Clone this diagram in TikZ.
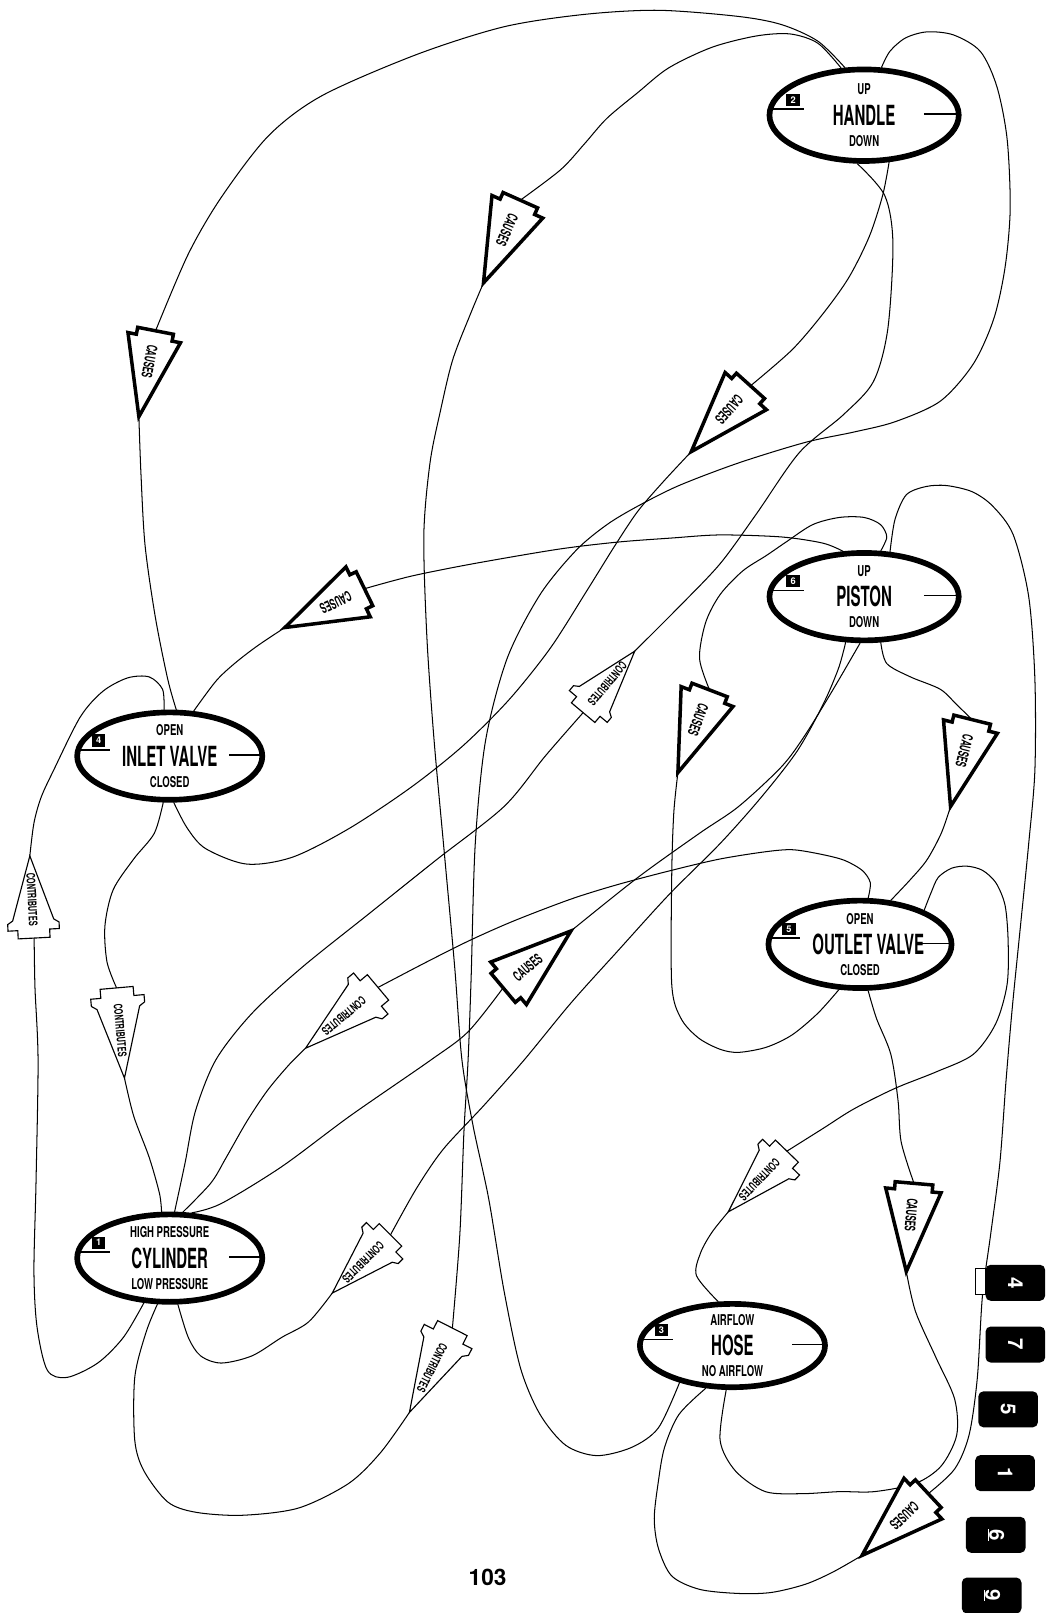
\documentclass[tikz,border=0pt]{standalone}
\usepackage{fontspec}
\setmainfont{TeX Gyre Heros}
\usetikzlibrary{shapes.geometric,calc}
\pgfdeclarelayer{bg}
\pgfsetlayers{bg,main}
\newcommand\bigfmt[1]{\scalebox{0.54}[1]{\fontsize{27}{27}\selectfont\bfseries #1}}
\newcommand\smfmt[1]{\scalebox{0.64}[1]{\fontsize{14.5}{14.5}\selectfont\bfseries #1}}
\newcommand\czfmt[1]{\scalebox{0.56}[1]{\fontsize{14}{14}\selectfont\bfseries #1}}
\newcommand\ctfmt[1]{\scalebox{0.62}[1]{\fontsize{11.5}{11.5}\selectfont\bfseries #1}}
\tikzset{
 statenode/.style={ellipse, draw, line width=5.5pt, fill=white, inner sep=0pt},
 tick/.style={line width=1.6pt},
 numbox/.style={fill=black, text=white, minimum width=13pt, minimum height=12pt, inner sep=0pt, font=\bfseries\fontsize{9}{9}\selectfont},
 lbl/.style={inner sep=0pt},
 conn/.style={line width=1pt, line cap=round, line join=round},
 cz/.style={draw, fill=white, line width=3.4pt, line join=miter},
 ct/.style={draw, fill=white, line width=1.1pt, line join=miter},
 tabbox/.style={fill=black, rounded corners=5pt, minimum width=58pt, minimum height=35pt, inner sep=0pt},
 tabnum/.style={text=white, inner sep=0pt, font=\bfseries\fontsize{20}{20}\selectfont},
}
\def\ms{0}
\newcommand\stnode[9]{%
 \node[statenode, minimum width=#3, minimum height=#4] (#1) at (#2) {};
 \draw[tick] ($(#1.center)+(-#9+3,-6)$) -- ($(#1.center)+(-58,-6)$);
 \draw[tick] ($(#1.center)+(58,-1)$) -- ($(#1.center)+(#9-4,-1)$);
 \node[numbox] (#1-n) at ($(#1.center)+(-69,-15)$) {#5};
 \node[lbl] (#1-t) at ($(#1.center)+(0,-25)$) {\smfmt{#6}};
 \node[lbl] (#1-m) at ($(#1.center)+(\ms,0)$) {\bigfmt{#7}};
 \node[lbl] (#1-b) at ($(#1.center)+(0,25)$) {\smfmt{#8}};
}
% causes arrow: single notch at the back
\newcommand\czshape[2]{(0,0) -- ({-0.92*#1},{#2}) -- ({-0.92*#1},{0.68*#2}) -- ({-#1},{0.68*#2}) -- ({-#1},{-0.68*#2}) -- ({-0.92*#1},{-0.68*#2}) -- ({-0.92*#1},{-#2}) -- cycle}
% contributes arrow: barb plus notch
\newcommand\ctshape[2]{(0,0) -- ({-0.78*#1},{0.8*#2}) -- ({-0.82*#1},{#2}) -- ({-0.9*#1},{#2}) -- ({-0.9*#1},{0.62*#2}) -- ({-#1},{0.62*#2}) -- ({-#1},{-0.62*#2}) -- ({-0.9*#1},{-0.62*#2}) -- ({-0.9*#1},{-#2}) -- ({-0.82*#1},{-#2}) -- ({-0.78*#1},{-0.8*#2}) -- cycle}
\newcommand\arrowpiece[9]{%
 \begin{scope}[shift={(#2)}, rotate=#3]
  \draw[#6] \csname #6shape\endcsname{#4}{#5};
  \coordinate (#1t) at (0,0);
  \coordinate (#1b) at ({-#4},0);
  \node[lbl, rotate=#8] (#1l) at ({-#9*#4},0) {\csname #6fmt\endcsname{#7}};
 \end{scope}}
\begin{document}
\begin{tikzpicture}[x=1pt,y=-1pt]
\useasboundingbox (0,0) rectangle (1017,1568);
\begin{pgfonlayer}{bg}
\fill[white] (0,0) rectangle (1017,1568);
\end{pgfonlayer}

% state nodes
\stnode{H}{840,112}{184}{89}{2}{UP}{HANDLE}{DOWN}{95}
\stnode{P}{840,580}{184}{85}{6}{UP}{PISTON}{DOWN}{95}
\stnode{I}{165,735}{180}{85}{4}{OPEN}{INLET VALVE}{CLOSED}{93}
\def\ms{8}
\stnode{O}{836,918}{178}{85}{5}{OPEN}{OUTLET VALVE}{CLOSED}{92}
\def\ms{0}
\stnode{C}{165,1223}{180}{85}{1}{HIGH PRESSURE}{CYLINDER}{LOW PRESSURE}{93}
\stnode{S}{712,1308}{180}{81}{3}{AIRFLOW}{HOSE}{NO AIRFLOW}{93}

% arrows
\arrowpiece{a1}{135,405}{-101}{85}{26}{cz}{CAUSES}{-101}{0.64}
\arrowpiece{a2}{470,275}{-114}{88}{27}{cz}{CAUSES}{-114}{0.64}
\arrowpiece{a3}{672,439}{-132}{86}{27}{cz}{CAUSES}{-132}{0.64}
\arrowpiece{a4}{277,610}{-154}{86}{27}{cz}{CAUSES}{-154}{0.64}
\arrowpiece{a5}{659,751}{-111}{86}{27}{cz}{CAUSES}{-111}{0.64}
\arrowpiece{a6}{924,784}{-104}{87}{27}{cz}{CAUSES}{-104}{0.64}
\arrowpiece{a7}{555,905}{40}{86}{27}{cz}{CAUSES}{40}{0.64}
\arrowpiece{a8}{881,1236}{-95}{86}{27}{cz}{CAUSES}{-95}{0.64}
\arrowpiece{a9}{838,1512}{-137}{88}{27}{cz}{CAUSES}{-137}{0.64}
\arrowpiece{b1}{29,832}{93}{80}{25}{ct}{CONTRIBUTES}{-87}{0.53}
\arrowpiece{b2}{121,1048}{-85}{88}{26}{ct}{CONTRIBUTES}{-85}{0.53}
\arrowpiece{b3}{617,633}{50}{78}{24}{ct}{CONTRIBUTES}{-130}{0.53}
\arrowpiece{b4}{297,1019}{-140}{92}{26}{ct}{CONTRIBUTES}{-140}{0.53}
\arrowpiece{b5}{323,1257}{-135}{80}{25}{ct}{CONTRIBUTES}{-135}{0.53}
\arrowpiece{b6}{398,1373}{-117}{92}{26}{ct}{CONTRIBUTES}{-117}{0.53}
\arrowpiece{b7}{708,1178}{-134}{82}{25}{ct}{CONTRIBUTES}{-134}{0.53}

% connectors
\begin{pgfonlayer}{bg}
\draw[conn] plot[smooth, tension=0.5] coordinates {(H.112) (795,40) (760,24) (718,16) (640,10) (568,14) (490,26) (405,53) (313,93) (261,132) (215,192) (183,247) (a1b)};
\draw[conn] plot[smooth, tension=0.5] coordinates {(a1t) (137,460) (141,530) (151,600) (163,660) (I.82)};
\draw[conn] plot[smooth, tension=0.5] coordinates {(H.116) (795,42) (768,33) (735,35) (692,46) (650,66) (620,90) (590,115) (568,140) (545,165) (a2b)};
\draw[conn] plot[smooth, tension=0.5] coordinates {(a2t) (457,306) (440,350) (428,400) (418,450) (412,520) (415,620) (422,720) (432,830) (442,940) (449,1030) (460,1095) (475,1165) (490,1255) (506,1330) (525,1375) (550,1405) (580,1415) (614,1407) (640,1388) (S.215)};
\draw[conn] plot[smooth, tension=0.5] coordinates {(H.298) (858,190) (845,230) (825,270) (800,305) (770,340) (a3b)};
\draw[conn] plot[smooth, tension=0.5] coordinates {(a3t) (645,468) (620,497) (598,530) (570,575) (535,630) (495,680) (450,725) (400,765) (340,805) (285,833) (240,840) (200,825) (182,805) (I.275)};
\draw[conn] plot[smooth, tension=0.5] coordinates {(H.70) (865,50) (880,37) (901,31) (927,34) (953,50) (969,84) (979,135) (982,203) (977,260) (966,310) (946,354) (914,390) (870,410) (830,420) (783,430) (718,450) (660,472) (620,492) (590,510) (560,535) (525,578) (493,640) (472,720) (462,820) (458,950) (455,1031) (451,1100) (447,1200) (b6b)};
\draw[conn] plot[smooth, tension=0.5] coordinates {(b6t) (370,1412) (339,1442) (290,1466) (235,1473) (190,1470) (163,1460) (140,1430) (131,1400) (131,1339) (142,1295) (C.255)};
\draw[conn] plot[smooth, tension=0.5] coordinates {(C.84) (180,1130) (190,1080) (210,1030) (245,985) (294,940) (359,888) (424,836) (490,784) (530,735) (b3b)};
\draw[conn] plot[smooth, tension=0.5] coordinates {(b3t) (660,590) (700,548) (735,500) (777,440) (820,403) (849,371) (863,320) (868,236) (860,190) (H.262)};
\draw[conn] plot[smooth, tension=0.5] coordinates {(P.115) (800,528) (760,522) (700,520) (653,523) (600,527) (542,534) (460,548) (400,560) (a4b)};
\draw[conn] plot[smooth, tension=0.5] coordinates {(a4t) (250,628) (228,645) (210,662) (I.62)};
\draw[conn] plot[smooth, tension=0.5] coordinates {(P.70) (862,522) (856,510) (840,503) (816,503) (790,510) (764,527) (745,540) (722,555) (700,578) (686,605) (680,640) (a5b)};
\draw[conn] plot[smooth, tension=0.5] coordinates {(a5t) (655,790) (653,850) (653,957) (662,990) (679,1009) (700,1020) (718,1023) (745,1018) (770,1006) (795,985) (O.245)};
\draw[conn] plot[smooth, tension=0.5] coordinates {(P.290) (862,645) (885,658) (914,670) (930,685) (a6b)};
\draw[conn] plot[smooth, tension=0.5] coordinates {(a6t) (915,810) (901,836) (885,855) (O.55)};
\draw[conn] plot[smooth, tension=0.5] coordinates {(C.64) (215,1170) (274,1134) (340,1085) (418,1031) (455,1003) (a7b)};
\draw[conn] plot[smooth, tension=0.5] coordinates {(a7t) (620,853) (680,810) (718,784) (760,745) (783,714) (810,670) (P.265)};
\draw[conn] plot[smooth, tension=0.5] coordinates {(C.240) (120,1300) (95,1325) (65,1339) (46,1332) (36,1290) (33,1236) (35,1150) (37,1031) (34,960) (b1b)};
\draw[conn] plot[smooth, tension=0.5] coordinates {(b1t) (33,800) (40,775) (52,749) (78,697) (100,672) (124,659) (145,658) (158,670) (I.97)};
\draw[conn] plot[smooth, tension=0.5] coordinates {(I.262) (150,810) (130,835) (110,865) (102,900) (104,935) (b2b)};
\draw[conn] plot[smooth, tension=0.5] coordinates {(b2t) (130,1085) (145,1125) (155,1160) (C.100)};
\draw[conn] plot[smooth, tension=0.5] coordinates {(O.80) (846,858) (838,846) (820,836) (796,830) (770,826) (744,828) (700,835) (653,846) (600,860) (555,874) (500,895) (457,914) (415,935) (b4b)};
\draw[conn] plot[smooth, tension=0.5] coordinates {(b4t) (281,1035) (260,1060) (240,1090) (220,1125) (205,1150) (C.74)};
\draw[conn] plot[smooth, tension=0.5] coordinates {(P.248) (815,650) (800,685) (775,730) (740,775) (700,820) (650,870) (600,925) (555,975) (509,1031) (470,1075) (431,1117) (405,1155) (b5b)};
\draw[conn] plot[smooth, tension=0.5] coordinates {(b5t) (300,1285) (274,1300) (245,1318) (215,1325) (195,1318) (183,1300) (C.280)};
\draw[conn] plot[smooth, tension=0.5] coordinates {(O.280) (852,990) (866,1025) (873,1070) (876,1110) (a8b)};
\draw[conn] plot[smooth, tension=0.5] coordinates {(a8t) (890,1275) (910,1320) (928,1360) (930,1395) (915,1425) (890,1442) (850,1450) (816,1450) (780,1452) (744,1450) (715,1430) (700,1400) (S.262)};
\draw[conn] plot[smooth, tension=0.5] coordinates {(P.60) (870,505) (881,481) (900,473) (920,472) (945,478) (965,492) (985,520) (1000,580) (1006,660) (1006,749) (1000,820) (992,900) (984,980) (978,1050) (972,1130) (963,1200) (955,1260) (950,1340) (942,1395) (928,1428) (a9b)};
\draw[conn] plot[smooth, tension=0.5] coordinates {(a9t) (810,1528) (783,1540) (750,1548) (718,1549) (680,1545) (653,1532) (640,1505) (636,1476) (640,1440) (646,1407) (660,1375) (S.238)};
\draw[conn] plot[smooth, tension=0.5] coordinates {(O.28) (905,868) (912,853) (925,844) (940,842) (955,846) (968,858) (977,880) (980,915) (979,957) (968,995) (946,1025) (910,1042) (870,1058) (830,1078) (800,1097) (b7b)};
\draw[conn] plot[smooth, tension=0.5] coordinates {(b7t) (692,1198) (681,1218) (677,1240) (S.108)};
\end{pgfonlayer}

% side tabs
\draw[line width=0.8pt, fill=white] (948,1233) rectangle (958,1258);
\node[tabbox] (tab4) at (987,1247) {};
\node[tabnum, rotate=-90] (tab4n) at (tab4) {4};
\node[tabbox] (tab7) at (987,1307) {};
\node[tabnum, rotate=-90] (tab7n) at (tab7) {7};
\node[tabbox] (tab5) at (980,1370) {};
\node[tabnum, rotate=-90] (tab5n) at (tab5) {5};
\node[tabbox] (tab1) at (977,1432) {};
\node[tabnum, rotate=-90] (tab1n) at (tab1) {1};
\node[tabbox] (tab6) at (968,1492) {};
\node[tabnum, rotate=-90] (tab6n) at (tab6) {\underline{6}};
\node[tabbox] (tab9) at (964,1551) {};
\node[tabnum, rotate=-90] (tab9n) at (tab9) {\underline{9}};

% page number
\node[font=\bfseries\fontsize{22}{22}\selectfont, inner sep=0pt] (pg) at (474,1533) {103};
\end{tikzpicture}
\end{document}
